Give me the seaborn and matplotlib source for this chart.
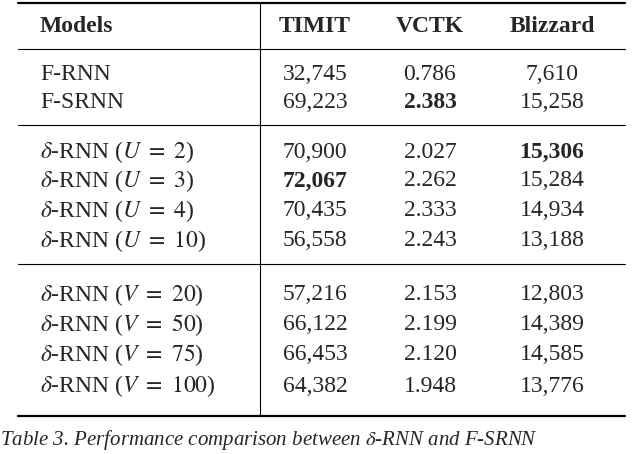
import matplotlib
matplotlib.use("Agg")
import matplotlib.pyplot as plt
import seaborn as sns

models = ["F-RNN", "F-SRNN",
          r"$\delta$-RNN ($U\ =\ 2$)", r"$\delta$-RNN ($U\ =\ 3$)", r"$\delta$-RNN ($U\ =\ 4$)", r"$\delta$-RNN ($U\ =\ 10$)",
          r"$\delta$-RNN ($V\ =\ 20$)", r"$\delta$-RNN ($V\ =\ 50$)", r"$\delta$-RNN ($V\ =\ 75$)", r"$\delta$-RNN ($V\ =\ 100$)"]
timit = ["32,745", "69,223", "70,900", "72,067", "70,435", "56,558", "57,216", "66,122", "66,453", "64,382"]
vctk = ["0.786", "2.383", "2.027", "2.262", "2.333", "2.243", "2.153", "2.199", "2.120", "1.948"]
blizzard = ["7,610", "15,258", "15,306", "15,284", "14,934", "13,188", "12,803", "14,389", "14,585", "13,776"]
columns = ["TIMIT", "VCTK", "Blizzard"]
bold = {("TIMIT", 3), ("VCTK", 1), ("Blizzard", 2)}
caption = r"Table 3. Performance comparison between $\delta$-RNN and F-SRNN"

sns.set_theme(style="white")
plt.rcParams["font.family"] = ["Liberation Serif", "DejaVu Serif"]
plt.rcParams["mathtext.fontset"] = "stix"

fig = plt.figure(figsize=(6.4, 4.54), dpi=100)
ax = fig.add_axes([0, 0, 1, 1])
ax.set_xlim(0, 640)
ax.set_ylim(454, 0)
ax.axis("off")

fs = 17
row_y = [75, 103, 152, 181, 211, 241, 295, 325, 355, 386]
col_x = {"TIMIT": 315, "VCTK": 430, "Blizzard": 552}
vals = {"TIMIT": timit, "VCTK": vctk, "Blizzard": blizzard}

# rules
ax.plot([18, 625], [3, 3], color="black", lw=1.6)
for y in (49, 125, 264):
    ax.plot([18, 625], [y, y], color="black", lw=0.8)
ax.plot([18, 625], [416, 416], color="black", lw=1.6)
ax.plot([260, 260], [3, 416], color="black", lw=0.8)

ax.text(40, 27, "Models", fontsize=fs, fontweight="bold", va="center", ha="left")
for c in columns:
    ax.text(col_x[c], 27, c, fontsize=fs, fontweight="bold", va="center", ha="center")

for i, (m, y) in enumerate(zip(models, row_y)):
    ax.text(40, y, m, fontsize=fs, va="center", ha="left")
    for c in columns:
        w = "bold" if (c, i) in bold else "normal"
        ax.text(col_x[c], y, vals[c][i], fontsize=fs, fontweight=w, va="center", ha="center")

ax.text(0, 452, caption, fontsize=15, style="italic", va="bottom", ha="left")

fig.savefig("out.png", dpi=100)
